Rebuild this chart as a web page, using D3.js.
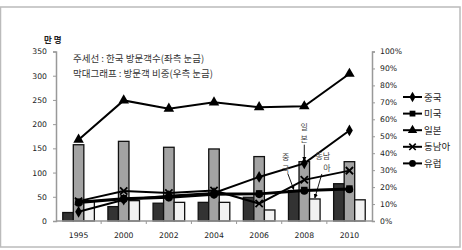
<!DOCTYPE html>
<html>
<head>
<meta charset="utf-8">
<script src="https://cdn.jsdelivr.net/npm/d3@7"></script>
<style>
  body { margin: 0; background: #fff; }
  svg text { font-family: "DejaVu Sans", sans-serif; }
  .kr { font-family: "Noto Sans CJK KR", sans-serif; }
</style>
</head>
<body>
<svg id="chart" width="462" height="250"></svg>
<script>
  // years on the x axis
  var years = ["1995", "2000", "2002", "2004", "2006", "2008", "2010"];

  // visitors (만 명), left axis
  var china  = [19, 44, 52, 58, 91, 119, 187];
  var usa    = [40, 47, 50, 57, 57, 64, 67];
  var japan  = [168, 249, 232, 245, 235, 237, 304];
  var sea    = [41, 62, 58, 63, 36, 85, 104];
  var europe = [37, 45, 48, 54, 55, 62, 65];

  // share of visitors (%), right axis
  var shareChina = [5, 8.5, 10.5, 11, 14, 18, 22];
  var shareJapan = [45, 47, 43.5, 42.5, 38, 35, 35];
  var shareSea   = [12, 12, 11, 11, 6.5, 13, 12.5];

  var leftTicks = [0, 50, 100, 150, 200, 250, 300, 350];
  var rightTicks = [0, 10, 20, 30, 40, 50, 60, 70, 80, 90, 100];

  var svg = d3.select("#chart");

  // outer frame
  svg.append("rect")
    .attr("x", 0.5).attr("y", 7).attr("width", 459.5).attr("height", 240)
    .attr("fill", "none").attr("stroke", "#bbb").attr("stroke-width", 1.5);

  var x = d3.scaleBand().domain(years).range([56, 372]);
  var yL = d3.scaleLinear().domain([0, 350]).range([221, 51.5]);
  var yR = d3.scaleLinear().domain([0, 100]).range([221, 51.5]);

  var bw = x.bandwidth();
  var barSeries = [
    { key: "중국", values: shareChina, fill: "#333" },
    { key: "일본", values: shareJapan, fill: "#a3a3a3" },
    { key: "동남아", values: shareSea, fill: "#f2f2f2" }
  ];
  var x1 = d3.scaleBand().domain(barSeries.map(function(d){ return d.key; }))
    .range([bw * 0.15, bw * 0.85]);

  // bars
  barSeries.forEach(function(s) {
    svg.append("g").selectAll("rect")
      .data(s.values)
      .enter().append("rect")
      .attr("x", function(d, i){ return x(years[i]) + x1(s.key); })
      .attr("y", function(d){ return yR(d); })
      .attr("width", x1.bandwidth())
      .attr("height", function(d){ return yR(0) - yR(d); })
      .attr("fill", s.fill)
      .attr("stroke", "#111")
      .attr("stroke-width", 1.3);
  });

  // axes
  var gl = svg.append("g").attr("transform", "translate(56,0)")
    .call(d3.axisLeft(yL).tickValues(leftTicks).tickSize(3).tickPadding(6));
  var gr = svg.append("g").attr("transform", "translate(372,0)")
    .call(d3.axisRight(yR).tickValues(rightTicks).tickSize(3).tickPadding(5)
      .tickFormat(function(d){ return d + "%"; }));
  [gl, gr].forEach(function(g) {
    g.select(".domain").attr("stroke", "#999").attr("stroke-width", 1.5);
    g.selectAll(".tick line").attr("stroke", "#999");
    g.selectAll("text").attr("fill", "#222").style("font-size", "7.7px");
  });

  var gb = svg.append("g").attr("transform", "translate(0,221)");
  gb.append("line").attr("x1", 56).attr("x2", 372)
    .attr("stroke", "#999").attr("stroke-width", 1.5);
  gb.selectAll("line.tk")
    .data(years.slice(1))
    .enter().append("line").attr("class", "tk")
    .attr("x1", function(d){ return x(d); }).attr("x2", function(d){ return x(d); })
    .attr("y1", 0).attr("y2", 3)
    .attr("stroke", "#999");
  gb.selectAll("text")
    .data(years)
    .enter().append("text")
    .attr("x", function(d){ return x(d) + bw / 2; })
    .attr("y", 17)
    .attr("text-anchor", "middle")
    .attr("fill", "#222")
    .style("font-size", "7.7px")
    .text(function(d){ return d; });

  // lines
  var lineSeries = [
    { key: "중국", values: china, sym: d3.symbolDiamond, size: 40 },
    { key: "미국", values: usa, sym: d3.symbolSquare, size: 42 },
    { key: "일본", values: japan, sym: d3.symbolTriangle, size: 48 },
    { key: "동남아", values: sea, sym: d3.symbolTimes, size: 36, stroke: true },
    { key: "유럽", values: europe, sym: d3.symbolCircle, size: 45 }
  ];
  var line = d3.line()
    .x(function(d, i){ return x(years[i]) + bw / 2; })
    .y(function(d){ return yL(d); });

  lineSeries.forEach(function(s) {
    svg.append("path").datum(s.values)
      .attr("d", line)
      .attr("fill", "none").attr("stroke", "#000").attr("stroke-width", 2);
    svg.append("g").selectAll("path")
      .data(s.values)
      .enter().append("path")
      .attr("transform", function(d, i){
        return "translate(" + (x(years[i]) + bw / 2) + "," + yL(d) + ")";
      })
      .attr("d", d3.symbol().type(s.sym).size(s.size))
      .attr("fill", s.stroke ? "none" : "#000")
      .attr("stroke", "#000")
      .attr("stroke-width", s.stroke ? 1.8 : 0);
  });

  // legend
  var lg = svg.append("g").attr("transform", "translate(403,97)");
  lineSeries.forEach(function(s, i) {
    var row = lg.append("g").attr("transform", "translate(0," + (i * 16.6) + ")");
    row.append("line").attr("x1", 0).attr("x2", 19)
      .attr("stroke", "#000").attr("stroke-width", 2);
    row.append("path").attr("transform", "translate(9.5,0)")
      .attr("d", d3.symbol().type(s.sym).size(s.size * 0.8))
      .attr("fill", s.stroke ? "none" : "#000")
      .attr("stroke", "#000")
      .attr("stroke-width", s.stroke ? 1.6 : 0);
    row.append("text").attr("class", "kr")
      .attr("x", 21).attr("y", 3.5)
      .attr("fill", "#222")
      .style("font-size", "9.5px")
      .text(s.key);
  });

  // titles
  svg.append("text").attr("class", "kr")
    .attr("x", 44).attr("y", 43)
    .attr("font-weight", "bold").attr("fill", "#222")
    .style("font-size", "8.5px")
    .text("만 명");
  svg.append("text").attr("class", "kr")
    .attr("x", 73).attr("y", 62).attr("fill", "#333")
    .style("font-size", "9.5px")
    .text("주세선 : 한국 방문객수(좌측 눈금)");
  svg.append("text").attr("class", "kr")
    .attr("x", 73).attr("y", 77).attr("fill", "#333")
    .style("font-size", "9.5px")
    .text("막대그래프 : 방문객 비중(우측 눈금)");

  // arrow annotations on 2008 bars
  svg.append("defs").append("marker")
    .attr("id", "ah").attr("viewBox", "0 0 10 10")
    .attr("refX", 9).attr("refY", 5)
    .attr("markerWidth", 5).attr("markerHeight", 5)
    .attr("orient", "auto")
    .append("path").attr("d", "M0,0L10,5L0,10z").attr("fill", "#000");

  var ai = years.indexOf("2008");
  var notes = [
    { series: 1, chars: ["일", "본"], tx: 0, ty: -32, ax: 0, ay: -17 },
    { series: 0, chars: ["중", "국"], tx: -8, ty: -30, ax: -6, ay: -17 },
    { series: 2, chars: ["동남", "아"], tx: 8, ty: -40, ax: 7, ay: -25 }
  ];
  notes.forEach(function(n) {
    var s = barSeries[n.series];
    var bx = x(years[ai]) + x1(s.key) + x1.bandwidth() / 2;
    var by = yR(s.values[ai]);
    n.chars.forEach(function(c, k) {
      svg.append("text").attr("class", "kr")
        .attr("x", bx + n.tx + (k === 1 && n.series === 2 ? 4 : 0))
        .attr("y", by + n.ty + k * 12)
        .attr("text-anchor", "middle")
        .attr("fill", "#444")
        .style("font-size", "8px")
        .text(c);
    });
    svg.append("line")
      .attr("x1", bx + n.ax).attr("y1", by + n.ay)
      .attr("x2", bx).attr("y2", by - 1)
      .attr("stroke", "#000").attr("stroke-width", 0.9)
      .attr("marker-end", "url(#ah)");
  });
</script>
</body>
</html>
